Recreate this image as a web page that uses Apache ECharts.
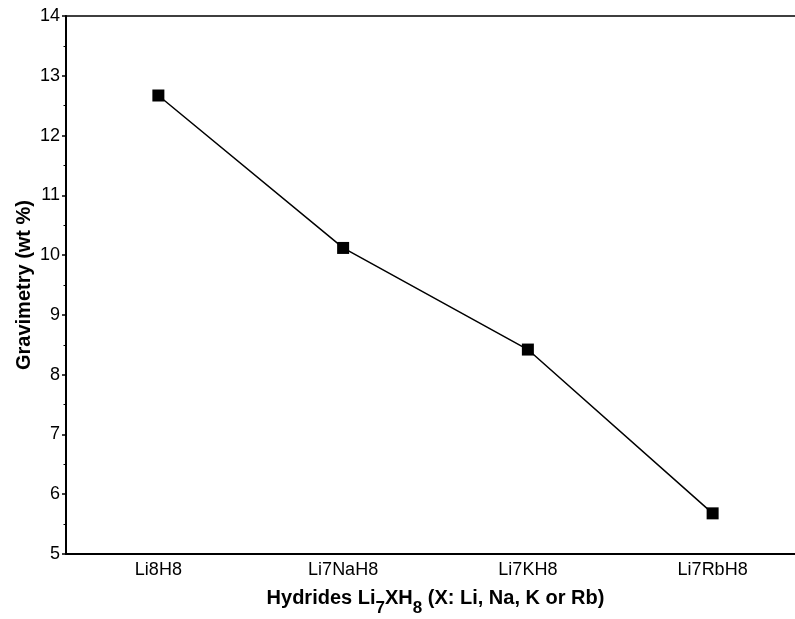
<!DOCTYPE html>
<html>
<head>
<meta charset="utf-8">
<script src="https://cdn.jsdelivr.net/npm/echarts@6/dist/echarts.min.js"></script>
<style>
  html, body { margin: 0; padding: 0; background: #fff; }
  #chart { width: 795px; height: 619px; }
</style>
</head>
<body>
<div id="chart"></div>
<script>
// Hydride compositions along the x axis
const categories = ['Li8H8', 'Li7NaH8', 'Li7KH8', 'Li7RbH8'];
// Gravimetric hydrogen capacity (wt %)
const gravimetry = [12.67, 10.12, 8.42, 5.68];
// Y axis range
const yMin = 5;
const yMax = 14;

const font = 'Liberation Sans, Arial, Helvetica, sans-serif';
const chart = echarts.init(document.getElementById('chart'), null, { renderer: 'canvas' });

chart.setOption({
  animation: false,
  backgroundColor: '#ffffff',
  grid: {
    left: 66, top: 16, width: 739, height: 538,
    outerBoundsMode: 'none',
    containLabel: false,
    show: true, borderColor: '#000', borderWidth: 1.5, backgroundColor: 'transparent'
  },
  xAxis: [
    {
      type: 'category',
      data: categories,
      boundaryGap: true,
      position: 'bottom',
      name: '{b|Hydrides Li}{s|7}{b|XH}{s|8}{b| (X: Li, Na, K or Rb)}',
      nameLocation: 'middle',
      nameGap: 33,
      nameTextStyle: {
        rich: {
          b: { fontFamily: font, fontSize: 20, fontWeight: 'bold', color: '#000', verticalAlign: 'top', height: 22 },
          s: { fontFamily: font, fontSize: 17, fontWeight: 'bold', color: '#000', verticalAlign: 'top', height: 22, padding: [10, 0, 0, 0] }
        }
      },
      axisLine: { lineStyle: { color: '#000', width: 2 } },
      axisTick: { alignWithLabel: true, length: 4, lineStyle: { color: '#000', width: 1.5 } },
      axisLabel: { fontFamily: font, fontSize: 18, color: '#000', margin: 7 },
      splitLine: { show: false }
    },
    {
      // minor ticks between categories
      type: 'category',
      data: categories,
      boundaryGap: true,
      position: 'bottom',
      axisLine: { show: false },
      axisTick: { length: 3, lineStyle: { color: '#000', width: 1 } },
      axisLabel: { show: false },
      splitLine: { show: false }
    }
  ],
  yAxis: {
    type: 'value',
    min: yMin,
    max: yMax,
    interval: 1,
    name: 'Gravimetry (wt %)',
    nameLocation: 'middle',
    nameGap: 32,
    nameMoveOverlap: false,
    nameTextStyle: { fontFamily: font, fontSize: 20, fontWeight: 'bold', color: '#000' },
    axisLine: { show: true, lineStyle: { color: '#000', width: 2 } },
    axisTick: { show: true, length: 4, lineStyle: { color: '#000', width: 1.5 } },
    minorTick: { show: true, splitNumber: 2, length: 2.5, lineStyle: { color: '#000', width: 1 } },
    axisLabel: { fontFamily: font, fontSize: 18, color: '#000', margin: 6 },
    splitLine: { show: false },
    minorSplitLine: { show: false }
  },
  series: [
    {
      type: 'line',
      xAxisIndex: 0,
      data: gravimetry,
      symbol: 'rect',
      symbolSize: 12,
      itemStyle: { color: '#000' },
      lineStyle: { color: '#000', width: 1.5 }
    }
  ]
});
</script>
</body>
</html>
